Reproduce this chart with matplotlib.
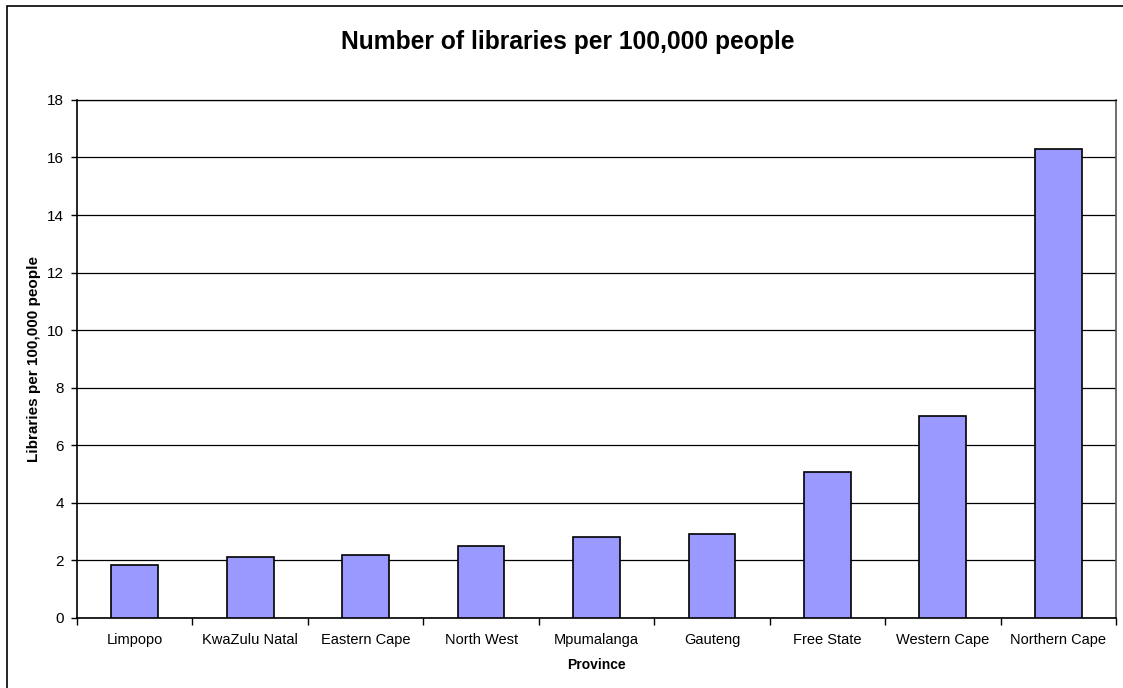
import numpy as np
import matplotlib.pyplot as plt
from matplotlib.patches import Rectangle

plt.rcParams['font.family'] = ['Liberation Sans', 'DejaVu Sans']

# Data
provinces = ['Limpopo', 'KwaZulu Natal', 'Eastern Cape', 'North West', 'Mpumalanga',
             'Gauteng', 'Free State', 'Western Cape', 'Northern Cape']
libraries = [1.83, 2.12, 2.19, 2.48, 2.80, 2.90, 5.08, 7.0, 16.29]
y_ticks = [0, 2, 4, 6, 8, 10, 12, 14, 16, 18]

fig = plt.figure(figsize=(11.23, 6.88), dpi=100)
ax = fig.add_axes([0.0686, 0.1022, 0.9252, 0.7525])

# chart area border (runs off the right and bottom edges)
fig.patches.append(Rectangle((7 / 1123, -0.05), 1.1, 1 - 6 / 688 + 0.05,
                             transform=fig.transFigure, fill=False,
                             edgecolor='black', linewidth=1.2))

x = np.arange(len(provinces))
ax.bar(x, libraries, width=0.405, color='#9999FF', edgecolor='black',
       linewidth=1.2, zorder=3)

ax.set_xlim(-0.5, len(provinces) - 0.5)
ax.set_ylim(0, 18)
ax.set_yticks(y_ticks)
ax.set_yticklabels([str(t) for t in y_ticks], fontsize=11)
ax.yaxis.grid(True, color='black', linewidth=0.9, zorder=0)

ax.set_xticks(x)
ax.set_xticklabels(provinces, fontsize=10.5)
ax.tick_params(axis='x', which='major', length=0, pad=11)
ax.set_xticks(np.arange(-0.5, len(provinces)), minor=True)
ax.tick_params(axis='x', which='minor', length=5, direction='out', width=1)
ax.tick_params(axis='y', length=4, direction='out', width=1, pad=5.5)

for s in ax.spines.values():
    s.set_linewidth(1.2)
    s.set_color('black')
ax.spines['top'].set_linewidth(0.9)
ax.spines['right'].set_color('#555555')

ax.set_xlabel('Province', fontsize=10, fontweight='bold', labelpad=8)
ax.set_ylabel('Libraries per 100,000 people', fontsize=11, fontweight='bold', va='center')
ax.yaxis.set_label_coords(-0.0414, 0.5)
fig.text(568 / 1123, 1 - 42 / 688, 'Number of libraries per 100,000 people',
         ha='center', va='center', fontsize=17.7, fontweight='bold')

fig.savefig('out.png', dpi=100)
